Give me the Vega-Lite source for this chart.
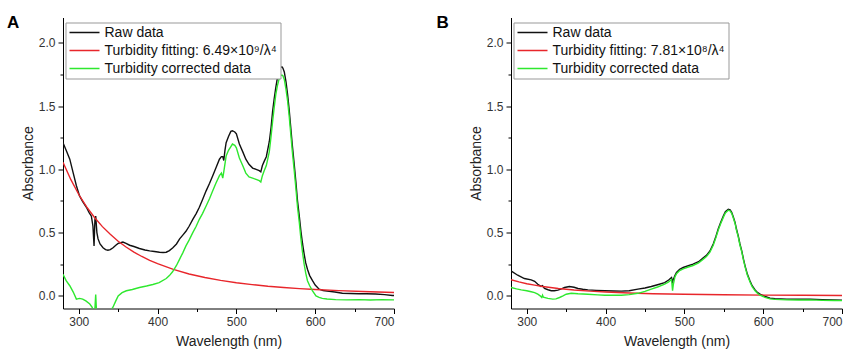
{
"$schema": "https://vega.github.io/schema/vega-lite/v6.json",
"background": "white",
"padding": {"left": 7, "top": 13.5, "right": 0, "bottom": 0},
"config": {
  "font": "Liberation Sans",
  "view": {"stroke": null},
  "axis": {"grid": false, "domainColor": "#000", "domainWidth": 1, "tickColor": "#000", "tickWidth": 1, "labelFont": "Liberation Sans", "labelFontSize": 12, "labelColor": "#333", "labelPadding": 3, "titleFont": "Liberation Sans", "titleFontSize": 14, "titleFontWeight": "normal", "titleColor": "#222"},
  "legend": {"title": null, "orient": "none", "legendX": 2.5, "legendY": 5, "symbolType": "stroke", "symbolSize": 900, "symbolStrokeWidth": 1.5, "clipHeight": 14, "rowPadding": 4, "labelOffset": 4, "labelFontSize": 14, "labelFont": "Liberation Sans", "labelColor": "#111", "padding": 3, "strokeColor": "#999", "fillColor": "white", "labelLimit": 400, "cornerRadius": 0}
},
"datasets": {
"a": [
{"s":"Raw data","w":280,"v":1.21},{"s":"Raw data","w":284,"v":1.15},{"s":"Raw data","w":288.6,"v":1.08},{"s":"Raw data","w":293,"v":0.97},{"s":"Raw data","w":297,"v":0.87},{"s":"Raw data","w":301,"v":0.79},{"s":"Raw data","w":305,"v":0.745},{"s":"Raw data","w":309.7,"v":0.7},{"s":"Raw data","w":313,"v":0.66},{"s":"Raw data","w":316,"v":0.63},{"s":"Raw data","w":318,"v":0.55},{"s":"Raw data","w":319.4,"v":0.395},{"s":"Raw data","w":320.5,"v":0.6},{"s":"Raw data","w":321.5,"v":0.63},{"s":"Raw data","w":323,"v":0.5},{"s":"Raw data","w":324.5,"v":0.45},{"s":"Raw data","w":327,"v":0.41},{"s":"Raw data","w":330.8,"v":0.38},{"s":"Raw data","w":334,"v":0.365},{"s":"Raw data","w":337,"v":0.36},{"s":"Raw data","w":340,"v":0.365},{"s":"Raw data","w":343.5,"v":0.38},{"s":"Raw data","w":347,"v":0.4},{"s":"Raw data","w":350,"v":0.415},{"s":"Raw data","w":353,"v":0.42},{"s":"Raw data","w":356,"v":0.425},{"s":"Raw data","w":360,"v":0.415},{"s":"Raw data","w":364.6,"v":0.4},{"s":"Raw data","w":370,"v":0.39},{"s":"Raw data","w":377,"v":0.374},{"s":"Raw data","w":384,"v":0.362},{"s":"Raw data","w":390,"v":0.355},{"s":"Raw data","w":396,"v":0.35},{"s":"Raw data","w":402.5,"v":0.345},{"s":"Raw data","w":407,"v":0.343},{"s":"Raw data","w":411,"v":0.345},{"s":"Raw data","w":415,"v":0.358},{"s":"Raw data","w":419.4,"v":0.38},{"s":"Raw data","w":424,"v":0.41},{"s":"Raw data","w":428,"v":0.45},{"s":"Raw data","w":432,"v":0.48},{"s":"Raw data","w":436,"v":0.51},{"s":"Raw data","w":440,"v":0.55},{"s":"Raw data","w":444.7,"v":0.605},{"s":"Raw data","w":449,"v":0.65},{"s":"Raw data","w":453,"v":0.7},{"s":"Raw data","w":457,"v":0.76},{"s":"Raw data","w":461.6,"v":0.83},{"s":"Raw data","w":466,"v":0.89},{"s":"Raw data","w":470,"v":0.95},{"s":"Raw data","w":474,"v":1.01},{"s":"Raw data","w":478.5,"v":1.08},{"s":"Raw data","w":481,"v":1.1},{"s":"Raw data","w":482.7,"v":1.1},{"s":"Raw data","w":484,"v":1.07},{"s":"Raw data","w":485.5,"v":1.15},{"s":"Raw data","w":487,"v":1.21},{"s":"Raw data","w":490,"v":1.26},{"s":"Raw data","w":493,"v":1.3},{"s":"Raw data","w":495,"v":1.305},{"s":"Raw data","w":498,"v":1.295},{"s":"Raw data","w":500,"v":1.28},{"s":"Raw data","w":503.8,"v":1.2},{"s":"Raw data","w":508,"v":1.14},{"s":"Raw data","w":512,"v":1.08},{"s":"Raw data","w":516,"v":1.04},{"s":"Raw data","w":520.6,"v":1.01},{"s":"Raw data","w":525,"v":1.0},{"s":"Raw data","w":529,"v":0.99},{"s":"Raw data","w":531,"v":0.98},{"s":"Raw data","w":533,"v":1.03},{"s":"Raw data","w":535.4,"v":1.065},{"s":"Raw data","w":538,"v":1.1},{"s":"Raw data","w":541.8,"v":1.22},{"s":"Raw data","w":544,"v":1.33},{"s":"Raw data","w":546,"v":1.46},{"s":"Raw data","w":548,"v":1.56},{"s":"Raw data","w":550,"v":1.645},{"s":"Raw data","w":552,"v":1.72},{"s":"Raw data","w":554.4,"v":1.79},{"s":"Raw data","w":556,"v":1.805},{"s":"Raw data","w":557.8,"v":1.81},{"s":"Raw data","w":559,"v":1.8},{"s":"Raw data","w":560.8,"v":1.77},{"s":"Raw data","w":563,"v":1.69},{"s":"Raw data","w":565,"v":1.59},{"s":"Raw data","w":567,"v":1.47},{"s":"Raw data","w":569,"v":1.33},{"s":"Raw data","w":571,"v":1.19},{"s":"Raw data","w":573.4,"v":1.04},{"s":"Raw data","w":575.5,"v":0.9},{"s":"Raw data","w":577.6,"v":0.75},{"s":"Raw data","w":580,"v":0.62},{"s":"Raw data","w":581.9,"v":0.51},{"s":"Raw data","w":584,"v":0.41},{"s":"Raw data","w":586,"v":0.33},{"s":"Raw data","w":588,"v":0.26},{"s":"Raw data","w":590.2,"v":0.21},{"s":"Raw data","w":593,"v":0.16},{"s":"Raw data","w":596.6,"v":0.12},{"s":"Raw data","w":600,"v":0.085},{"s":"Raw data","w":605,"v":0.053},{"s":"Raw data","w":610,"v":0.042},{"s":"Raw data","w":617.7,"v":0.035},{"s":"Raw data","w":625,"v":0.03},{"s":"Raw data","w":634.5,"v":0.021},{"s":"Raw data","w":645,"v":0.019},{"s":"Raw data","w":655.6,"v":0.017},{"s":"Raw data","w":665,"v":0.016},{"s":"Raw data","w":676.6,"v":0.015},{"s":"Raw data","w":688,"v":0.01},{"s":"Raw data","w":698,"v":0.003},{"s":"Raw data","w":700,"v":0.003},
{"s":"Turbidity fitting: 6.49×10⁹/λ⁴","w":280,"v":1.056},{"s":"Turbidity fitting: 6.49×10⁹/λ⁴","w":290,"v":0.918},{"s":"Turbidity fitting: 6.49×10⁹/λ⁴","w":300,"v":0.801},{"s":"Turbidity fitting: 6.49×10⁹/λ⁴","w":310,"v":0.703},{"s":"Turbidity fitting: 6.49×10⁹/λ⁴","w":320,"v":0.619},{"s":"Turbidity fitting: 6.49×10⁹/λ⁴","w":330,"v":0.547},{"s":"Turbidity fitting: 6.49×10⁹/λ⁴","w":340,"v":0.486},{"s":"Turbidity fitting: 6.49×10⁹/λ⁴","w":350,"v":0.432},{"s":"Turbidity fitting: 6.49×10⁹/λ⁴","w":360,"v":0.386},{"s":"Turbidity fitting: 6.49×10⁹/λ⁴","w":370,"v":0.346},{"s":"Turbidity fitting: 6.49×10⁹/λ⁴","w":380,"v":0.311},{"s":"Turbidity fitting: 6.49×10⁹/λ⁴","w":390,"v":0.281},{"s":"Turbidity fitting: 6.49×10⁹/λ⁴","w":400,"v":0.254},{"s":"Turbidity fitting: 6.49×10⁹/λ⁴","w":420,"v":0.209},{"s":"Turbidity fitting: 6.49×10⁹/λ⁴","w":440,"v":0.173},{"s":"Turbidity fitting: 6.49×10⁹/λ⁴","w":460,"v":0.145},{"s":"Turbidity fitting: 6.49×10⁹/λ⁴","w":480,"v":0.122},{"s":"Turbidity fitting: 6.49×10⁹/λ⁴","w":500,"v":0.104},{"s":"Turbidity fitting: 6.49×10⁹/λ⁴","w":520,"v":0.089},{"s":"Turbidity fitting: 6.49×10⁹/λ⁴","w":540,"v":0.076},{"s":"Turbidity fitting: 6.49×10⁹/λ⁴","w":560,"v":0.066},{"s":"Turbidity fitting: 6.49×10⁹/λ⁴","w":580,"v":0.057},{"s":"Turbidity fitting: 6.49×10⁹/λ⁴","w":600,"v":0.05},{"s":"Turbidity fitting: 6.49×10⁹/λ⁴","w":630,"v":0.041},{"s":"Turbidity fitting: 6.49×10⁹/λ⁴","w":660,"v":0.034},{"s":"Turbidity fitting: 6.49×10⁹/λ⁴","w":700,"v":0.027},
{"s":"Turbidity corrected data","w":280,"v":0.17},{"s":"Turbidity corrected data","w":284,"v":0.12},{"s":"Turbidity corrected data","w":288.6,"v":0.08},{"s":"Turbidity corrected data","w":293,"v":0.03},{"s":"Turbidity corrected data","w":297,"v":-0.026},{"s":"Turbidity corrected data","w":301,"v":-0.02},{"s":"Turbidity corrected data","w":305,"v":-0.026},{"s":"Turbidity corrected data","w":309,"v":-0.04},{"s":"Turbidity corrected data","w":314,"v":-0.065},{"s":"Turbidity corrected data","w":317,"v":-0.09},{"s":"Turbidity corrected data","w":319,"v":-0.14},{"s":"Turbidity corrected data","w":320.5,"v":-0.1},{"s":"Turbidity corrected data","w":321.5,"v":0.01},{"s":"Turbidity corrected data","w":322.5,"v":-0.12},{"s":"Turbidity corrected data","w":325,"v":-0.16},{"s":"Turbidity corrected data","w":330,"v":-0.17},{"s":"Turbidity corrected data","w":336,"v":-0.15},{"s":"Turbidity corrected data","w":340,"v":-0.12},{"s":"Turbidity corrected data","w":343.4,"v":-0.09},{"s":"Turbidity corrected data","w":347,"v":-0.04},{"s":"Turbidity corrected data","w":350,"v":0.0},{"s":"Turbidity corrected data","w":355,"v":0.025},{"s":"Turbidity corrected data","w":360.4,"v":0.04},{"s":"Turbidity corrected data","w":368,"v":0.05},{"s":"Turbidity corrected data","w":377,"v":0.066},{"s":"Turbidity corrected data","w":386,"v":0.078},{"s":"Turbidity corrected data","w":394,"v":0.09},{"s":"Turbidity corrected data","w":402,"v":0.105},{"s":"Turbidity corrected data","w":411,"v":0.137},{"s":"Turbidity corrected data","w":415,"v":0.16},{"s":"Turbidity corrected data","w":419,"v":0.19},{"s":"Turbidity corrected data","w":424,"v":0.24},{"s":"Turbidity corrected data","w":428,"v":0.29},{"s":"Turbidity corrected data","w":432,"v":0.34},{"s":"Turbidity corrected data","w":436,"v":0.395},{"s":"Turbidity corrected data","w":440,"v":0.44},{"s":"Turbidity corrected data","w":444.7,"v":0.5},{"s":"Turbidity corrected data","w":449,"v":0.55},{"s":"Turbidity corrected data","w":453,"v":0.605},{"s":"Turbidity corrected data","w":457,"v":0.65},{"s":"Turbidity corrected data","w":461.6,"v":0.71},{"s":"Turbidity corrected data","w":466,"v":0.77},{"s":"Turbidity corrected data","w":470,"v":0.83},{"s":"Turbidity corrected data","w":474,"v":0.89},{"s":"Turbidity corrected data","w":478.5,"v":0.95},{"s":"Turbidity corrected data","w":481,"v":0.97},{"s":"Turbidity corrected data","w":482.7,"v":0.93},{"s":"Turbidity corrected data","w":484,"v":0.98},{"s":"Turbidity corrected data","w":487,"v":1.105},{"s":"Turbidity corrected data","w":490,"v":1.15},{"s":"Turbidity corrected data","w":493,"v":1.18},{"s":"Turbidity corrected data","w":495,"v":1.2},{"s":"Turbidity corrected data","w":498,"v":1.19},{"s":"Turbidity corrected data","w":500,"v":1.17},{"s":"Turbidity corrected data","w":503.8,"v":1.09},{"s":"Turbidity corrected data","w":508,"v":1.03},{"s":"Turbidity corrected data","w":512,"v":0.97},{"s":"Turbidity corrected data","w":516,"v":0.94},{"s":"Turbidity corrected data","w":520.6,"v":0.93},{"s":"Turbidity corrected data","w":525,"v":0.92},{"s":"Turbidity corrected data","w":529,"v":0.91},{"s":"Turbidity corrected data","w":531,"v":0.9},{"s":"Turbidity corrected data","w":533,"v":0.95},{"s":"Turbidity corrected data","w":535.4,"v":0.99},{"s":"Turbidity corrected data","w":538,"v":1.03},{"s":"Turbidity corrected data","w":541.8,"v":1.14},{"s":"Turbidity corrected data","w":544,"v":1.26},{"s":"Turbidity corrected data","w":546,"v":1.38},{"s":"Turbidity corrected data","w":548,"v":1.49},{"s":"Turbidity corrected data","w":550,"v":1.59},{"s":"Turbidity corrected data","w":552,"v":1.66},{"s":"Turbidity corrected data","w":554.4,"v":1.72},{"s":"Turbidity corrected data","w":556,"v":1.74},{"s":"Turbidity corrected data","w":557.8,"v":1.745},{"s":"Turbidity corrected data","w":559,"v":1.74},{"s":"Turbidity corrected data","w":560.8,"v":1.71},{"s":"Turbidity corrected data","w":563,"v":1.63},{"s":"Turbidity corrected data","w":565,"v":1.54},{"s":"Turbidity corrected data","w":567,"v":1.42},{"s":"Turbidity corrected data","w":569,"v":1.28},{"s":"Turbidity corrected data","w":571,"v":1.14},{"s":"Turbidity corrected data","w":573.4,"v":0.99},{"s":"Turbidity corrected data","w":575.5,"v":0.85},{"s":"Turbidity corrected data","w":577.6,"v":0.7},{"s":"Turbidity corrected data","w":580,"v":0.57},{"s":"Turbidity corrected data","w":581.9,"v":0.45},{"s":"Turbidity corrected data","w":584,"v":0.34},{"s":"Turbidity corrected data","w":586,"v":0.25},{"s":"Turbidity corrected data","w":588,"v":0.18},{"s":"Turbidity corrected data","w":590.2,"v":0.12},{"s":"Turbidity corrected data","w":593,"v":0.08},{"s":"Turbidity corrected data","w":596.6,"v":0.04},{"s":"Turbidity corrected data","w":601,"v":0.0},{"s":"Turbidity corrected data","w":605,"v":-0.012},{"s":"Turbidity corrected data","w":609,"v":-0.02},{"s":"Turbidity corrected data","w":615,"v":-0.025},{"s":"Turbidity corrected data","w":626,"v":-0.03},{"s":"Turbidity corrected data","w":640,"v":-0.032},{"s":"Turbidity corrected data","w":656,"v":-0.03},{"s":"Turbidity corrected data","w":670,"v":-0.033},{"s":"Turbidity corrected data","w":685,"v":-0.03},{"s":"Turbidity corrected data","w":700,"v":-0.032}
],
"b": [
{"s":"Raw data","w":280,"v":0.197},{"s":"Raw data","w":288.5,"v":0.163},{"s":"Raw data","w":297,"v":0.137},{"s":"Raw data","w":305.6,"v":0.126},{"s":"Raw data","w":310,"v":0.115},{"s":"Raw data","w":314,"v":0.092},{"s":"Raw data","w":318,"v":0.075},{"s":"Raw data","w":320,"v":0.08},{"s":"Raw data","w":322.5,"v":0.058},{"s":"Raw data","w":327,"v":0.048},{"s":"Raw data","w":331,"v":0.04},{"s":"Raw data","w":335,"v":0.04},{"s":"Raw data","w":339.5,"v":0.045},{"s":"Raw data","w":344,"v":0.055},{"s":"Raw data","w":348,"v":0.066},{"s":"Raw data","w":354,"v":0.074},{"s":"Raw data","w":360,"v":0.068},{"s":"Raw data","w":365,"v":0.058},{"s":"Raw data","w":371,"v":0.052},{"s":"Raw data","w":377.6,"v":0.047},{"s":"Raw data","w":388,"v":0.043},{"s":"Raw data","w":399,"v":0.04},{"s":"Raw data","w":410,"v":0.038},{"s":"Raw data","w":420,"v":0.037},{"s":"Raw data","w":430,"v":0.04},{"s":"Raw data","w":441,"v":0.053},{"s":"Raw data","w":450,"v":0.062},{"s":"Raw data","w":458,"v":0.074},{"s":"Raw data","w":466,"v":0.088},{"s":"Raw data","w":475,"v":0.105},{"s":"Raw data","w":480,"v":0.125},{"s":"Raw data","w":483.7,"v":0.145},{"s":"Raw data","w":485,"v":0.11},{"s":"Raw data","w":486,"v":0.13},{"s":"Raw data","w":488,"v":0.16},{"s":"Raw data","w":490,"v":0.185},{"s":"Raw data","w":494,"v":0.21},{"s":"Raw data","w":498.5,"v":0.224},{"s":"Raw data","w":505,"v":0.238},{"s":"Raw data","w":511,"v":0.25},{"s":"Raw data","w":518,"v":0.27},{"s":"Raw data","w":524,"v":0.3},{"s":"Raw data","w":528,"v":0.32},{"s":"Raw data","w":532.4,"v":0.355},{"s":"Raw data","w":536.6,"v":0.41},{"s":"Raw data","w":540,"v":0.47},{"s":"Raw data","w":543,"v":0.53},{"s":"Raw data","w":546,"v":0.58},{"s":"Raw data","w":549.4,"v":0.63},{"s":"Raw data","w":552,"v":0.665},{"s":"Raw data","w":555.7,"v":0.685},{"s":"Raw data","w":558,"v":0.68},{"s":"Raw data","w":560,"v":0.66},{"s":"Raw data","w":562,"v":0.625},{"s":"Raw data","w":564.3,"v":0.58},{"s":"Raw data","w":566,"v":0.53},{"s":"Raw data","w":568.5,"v":0.47},{"s":"Raw data","w":570.5,"v":0.41},{"s":"Raw data","w":572.8,"v":0.355},{"s":"Raw data","w":575,"v":0.29},{"s":"Raw data","w":577,"v":0.237},{"s":"Raw data","w":580,"v":0.17},{"s":"Raw data","w":583.3,"v":0.118},{"s":"Raw data","w":586,"v":0.08},{"s":"Raw data","w":589.7,"v":0.047},{"s":"Raw data","w":593,"v":0.025},{"s":"Raw data","w":596,"v":0.013},{"s":"Raw data","w":602.4,"v":-0.005},{"s":"Raw data","w":608.7,"v":-0.018},{"s":"Raw data","w":615,"v":-0.022},{"s":"Raw data","w":630,"v":-0.026},{"s":"Raw data","w":645,"v":-0.027},{"s":"Raw data","w":659.7,"v":-0.026},{"s":"Raw data","w":675,"v":-0.03},{"s":"Raw data","w":690,"v":-0.032},{"s":"Raw data","w":700,"v":-0.034},
{"s":"Turbidity fitting: 7.81×10⁸/λ⁴","w":280,"v":0.127},{"s":"Turbidity fitting: 7.81×10⁸/λ⁴","w":290,"v":0.11},{"s":"Turbidity fitting: 7.81×10⁸/λ⁴","w":300,"v":0.096},{"s":"Turbidity fitting: 7.81×10⁸/λ⁴","w":310,"v":0.085},{"s":"Turbidity fitting: 7.81×10⁸/λ⁴","w":320,"v":0.074},{"s":"Turbidity fitting: 7.81×10⁸/λ⁴","w":340,"v":0.058},{"s":"Turbidity fitting: 7.81×10⁸/λ⁴","w":360,"v":0.046},{"s":"Turbidity fitting: 7.81×10⁸/λ⁴","w":380,"v":0.037},{"s":"Turbidity fitting: 7.81×10⁸/λ⁴","w":400,"v":0.031},{"s":"Turbidity fitting: 7.81×10⁸/λ⁴","w":430,"v":0.023},{"s":"Turbidity fitting: 7.81×10⁸/λ⁴","w":460,"v":0.017},{"s":"Turbidity fitting: 7.81×10⁸/λ⁴","w":500,"v":0.0125},{"s":"Turbidity fitting: 7.81×10⁸/λ⁴","w":550,"v":0.0085},{"s":"Turbidity fitting: 7.81×10⁸/λ⁴","w":600,"v":0.006},{"s":"Turbidity fitting: 7.81×10⁸/λ⁴","w":650,"v":0.0044},{"s":"Turbidity fitting: 7.81×10⁸/λ⁴","w":700,"v":0.0033},
{"s":"Turbidity corrected data","w":280,"v":0.066},{"s":"Turbidity corrected data","w":287,"v":0.055},{"s":"Turbidity corrected data","w":293,"v":0.047},{"s":"Turbidity corrected data","w":300,"v":0.04},{"s":"Turbidity corrected data","w":305.6,"v":0.032},{"s":"Turbidity corrected data","w":310,"v":0.025},{"s":"Turbidity corrected data","w":314,"v":0.013},{"s":"Turbidity corrected data","w":317,"v":0.0},{"s":"Turbidity corrected data","w":319,"v":-0.013},{"s":"Turbidity corrected data","w":320,"v":0.005},{"s":"Turbidity corrected data","w":321,"v":-0.01},{"s":"Turbidity corrected data","w":326.8,"v":-0.02},{"s":"Turbidity corrected data","w":333,"v":-0.026},{"s":"Turbidity corrected data","w":337,"v":-0.024},{"s":"Turbidity corrected data","w":341.6,"v":-0.013},{"s":"Turbidity corrected data","w":346,"v":0.0},{"s":"Turbidity corrected data","w":350,"v":0.013},{"s":"Turbidity corrected data","w":356.4,"v":0.02},{"s":"Turbidity corrected data","w":365,"v":0.016},{"s":"Turbidity corrected data","w":377.6,"v":0.013},{"s":"Turbidity corrected data","w":390,"v":0.008},{"s":"Turbidity corrected data","w":399,"v":0.005},{"s":"Turbidity corrected data","w":420,"v":0.005},{"s":"Turbidity corrected data","w":430,"v":0.01},{"s":"Turbidity corrected data","w":441,"v":0.02},{"s":"Turbidity corrected data","w":450,"v":0.035},{"s":"Turbidity corrected data","w":458,"v":0.053},{"s":"Turbidity corrected data","w":466,"v":0.07},{"s":"Turbidity corrected data","w":475,"v":0.092},{"s":"Turbidity corrected data","w":480,"v":0.11},{"s":"Turbidity corrected data","w":483.7,"v":0.13},{"s":"Turbidity corrected data","w":485,"v":0.04},{"s":"Turbidity corrected data","w":486,"v":0.09},{"s":"Turbidity corrected data","w":488,"v":0.15},{"s":"Turbidity corrected data","w":490,"v":0.175},{"s":"Turbidity corrected data","w":494,"v":0.2},{"s":"Turbidity corrected data","w":498.5,"v":0.214},{"s":"Turbidity corrected data","w":505,"v":0.228},{"s":"Turbidity corrected data","w":511,"v":0.24},{"s":"Turbidity corrected data","w":518,"v":0.26},{"s":"Turbidity corrected data","w":524,"v":0.29},{"s":"Turbidity corrected data","w":528,"v":0.31},{"s":"Turbidity corrected data","w":532.4,"v":0.345},{"s":"Turbidity corrected data","w":536.6,"v":0.4},{"s":"Turbidity corrected data","w":540,"v":0.46},{"s":"Turbidity corrected data","w":543,"v":0.52},{"s":"Turbidity corrected data","w":546,"v":0.57},{"s":"Turbidity corrected data","w":549.4,"v":0.62},{"s":"Turbidity corrected data","w":552,"v":0.655},{"s":"Turbidity corrected data","w":555.7,"v":0.677},{"s":"Turbidity corrected data","w":558,"v":0.672},{"s":"Turbidity corrected data","w":560,"v":0.652},{"s":"Turbidity corrected data","w":562,"v":0.617},{"s":"Turbidity corrected data","w":564.3,"v":0.572},{"s":"Turbidity corrected data","w":566,"v":0.522},{"s":"Turbidity corrected data","w":568.5,"v":0.462},{"s":"Turbidity corrected data","w":570.5,"v":0.402},{"s":"Turbidity corrected data","w":572.8,"v":0.347},{"s":"Turbidity corrected data","w":575,"v":0.282},{"s":"Turbidity corrected data","w":577,"v":0.229},{"s":"Turbidity corrected data","w":580,"v":0.162},{"s":"Turbidity corrected data","w":583.3,"v":0.11},{"s":"Turbidity corrected data","w":586,"v":0.072},{"s":"Turbidity corrected data","w":589.7,"v":0.04},{"s":"Turbidity corrected data","w":593,"v":0.018},{"s":"Turbidity corrected data","w":596,"v":0.006},{"s":"Turbidity corrected data","w":602.4,"v":-0.012},{"s":"Turbidity corrected data","w":608.7,"v":-0.024},{"s":"Turbidity corrected data","w":615,"v":-0.028},{"s":"Turbidity corrected data","w":630,"v":-0.032},{"s":"Turbidity corrected data","w":645,"v":-0.033},{"s":"Turbidity corrected data","w":659.7,"v":-0.032},{"s":"Turbidity corrected data","w":675,"v":-0.036},{"s":"Turbidity corrected data","w":690,"v":-0.037},{"s":"Turbidity corrected data","w":700,"v":-0.038}
]
},
"bounds": "flush",
"spacing": 117,
"resolve": {"scale": {"color": "independent"}, "legend": {"color": "independent"}},
"hconcat": [
{
  "title": {"text": "A", "anchor": "start", "frame": "bounds", "fontSize": 17, "fontWeight": "bold", "color": "#000", "dx": -14.2, "dy": 14, "offset": 0},
  "width": 331, "height": 291,
  "data": {"name": "a"},
  "mark": {"type": "line", "strokeWidth": 1.4, "clip": true},
  "encoding": {
    "x": {"field": "w", "type": "quantitative", "scale": {"domain": [280, 700], "nice": false, "zero": false},
      "axis": {"title": "Wavelength (nm)", "titlePadding": 7, "values": [300,350,400,450,500,550,600,650,700], "labelExpr": "datum.value % 100 === 0 ? datum.label : ''", "tickSize": {"condition": {"test": "datum.value % 100 === 0", "value": 5}, "value": 3}}},
    "y": {"field": "v", "type": "quantitative", "scale": {"domain": [-0.1, 2.2], "nice": false, "zero": false},
      "axis": {"title": "Absorbance", "titlePadding": 3, "values": [0,0.25,0.5,0.75,1,1.25,1.5,1.75,2], "labelExpr": "datum.value % 0.5 === 0 ? format(datum.value, '.1f') : ''", "tickSize": {"condition": {"test": "datum.value % 0.5 === 0", "value": 5}, "value": 3}}},
    "color": {"field": "s", "type": "nominal",
      "scale": {"domain": ["Raw data", "Turbidity fitting: 6.49×10⁹/λ⁴", "Turbidity corrected data"], "range": ["#111111", "#e8262b", "#2ee82e"]}}
  }
},
{
  "title": {"text": "B", "anchor": "start", "frame": "bounds", "fontSize": 17, "fontWeight": "bold", "color": "#000", "dx": -32.7, "dy": 14, "offset": 0},
  "width": 331, "height": 291,
  "data": {"name": "b"},
  "mark": {"type": "line", "strokeWidth": 1.4, "clip": true},
  "encoding": {
    "x": {"field": "w", "type": "quantitative", "scale": {"domain": [280, 700], "nice": false, "zero": false},
      "axis": {"title": "Wavelength (nm)", "titlePadding": 7, "values": [300,350,400,450,500,550,600,650,700], "labelExpr": "datum.value % 100 === 0 ? datum.label : ''", "tickSize": {"condition": {"test": "datum.value % 100 === 0", "value": 5}, "value": 3}}},
    "y": {"field": "v", "type": "quantitative", "scale": {"domain": [-0.1, 2.2], "nice": false, "zero": false},
      "axis": {"title": "Absorbance", "titlePadding": 3, "values": [0,0.25,0.5,0.75,1,1.25,1.5,1.75,2], "labelExpr": "datum.value % 0.5 === 0 ? format(datum.value, '.1f') : ''", "tickSize": {"condition": {"test": "datum.value % 0.5 === 0", "value": 5}, "value": 3}}},
    "color": {"field": "s", "type": "nominal",
      "scale": {"domain": ["Raw data", "Turbidity fitting: 7.81×10⁸/λ⁴", "Turbidity corrected data"], "range": ["#111111", "#e8262b", "#2ee82e"]}}
  }
}
]
}
